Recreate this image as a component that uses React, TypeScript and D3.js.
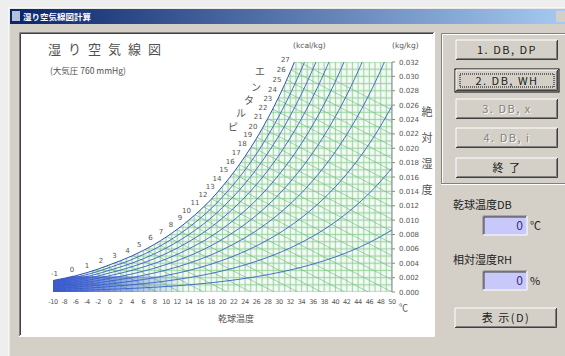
import React from 'react';
import * as d3 from 'd3';

// dry-bulb temperature (°C) and saturation humidity ratio (kg/kg) read for the chart
const satTemps = [-10, -8, -6, -4, -2, 0, 2, 4, 6, 8, 10, 12, 14, 16, 18, 20, 22, 24, 26, 28, 30, 32, 34, 36, 38, 40, 42, 44, 46, 48, 50];
const satHumidity = [0.0016, 0.00191, 0.00226, 0.00269, 0.00319, 0.00378, 0.00437, 0.00503, 0.00579, 0.00665, 0.00763, 0.00873, 0.00997, 0.01135, 0.0129, 0.0147, 0.01667, 0.01888, 0.02135, 0.02412, 0.0272, 0.03065, 0.03449, 0.03877, 0.04355, 0.04887, 0.05481, 0.06143, 0.06882, 0.07707, 0.08629];
const rhLevels = [0.1, 0.2, 0.3, 0.4, 0.5, 0.6, 0.7, 0.8, 0.9];
const enthalpyLevels = [-1, 0, 1, 2, 3, 4, 5, 6, 7, 8, 9, 10, 11, 12, 13, 14, 15, 16, 17, 18, 19, 20, 21, 22, 23, 24, 25, 26, 27];
const dbTicks = [-10, -8, -6, -4, -2, 0, 2, 4, 6, 8, 10, 12, 14, 16, 18, 20, 22, 24, 26, 28, 30, 32, 34, 36, 38, 40, 42, 44, 46, 48, 50];
const wTicks = [0, 0.002, 0.004, 0.006, 0.008, 0.01, 0.012, 0.014, 0.016, 0.018, 0.02, 0.022, 0.024, 0.026, 0.028, 0.03, 0.032];

const FACE = '#d4d0c8';
const JP = '"Noto Sans CJK JP", sans-serif';

const x = d3.scaleLinear().domain([-10, 50]).range([53, 392]);
const y = d3.scaleLinear().domain([0, 0.032]).range([292, 62]);

const satPts: [number, number][] = satTemps.map((t, i) => [t, satHumidity[i]]);

const satAt = (t: number) => {
  const i = Math.min(satTemps.length - 2, Math.max(0, Math.floor((t + 10) / 2)));
  const f = (t - satTemps[i]) / 2;
  return satHumidity[i] + f * (satHumidity[i + 1] - satHumidity[i]);
};
// moist air enthalpy, kcal/kg
const enth = (t: number, w: number) => 0.24 * t + w * (597.3 + 0.441 * t);
const wOnEnth = (h: number, t: number) => (h - 0.24 * t) / (597.3 + 0.441 * t);

const Button = ({ bx, by, w, h, label, focused = false, disabled = false }: any) => (
  <g>
    {focused && <rect x={bx - 1} y={by - 1} width={w + 2} height={h + 2} fill="none" stroke="#000" />}
    <rect x={bx} y={by} width={w} height={h} fill={FACE} />
    <path d={`M${bx},${by + h}V${by}H${bx + w}`} stroke="#fff" fill="none" />
    <path d={`M${bx},${by + h - 0.5}H${bx + w - 0.5}V${by}`} stroke="#404040" fill="none" />
    <path d={`M${bx + 1},${by + h - 1.5}H${bx + w - 1.5}V${by + 1}`} stroke="#808080" fill="none" />
    {focused && (
      <rect x={bx + 4} y={by + 4} width={w - 8} height={h - 8} fill="none" stroke="#000" strokeDasharray="1,1" />
    )}
    {disabled && (
      <text x={bx + w / 2 + 1} y={by + h / 2 + 5} textAnchor="middle" fontSize={11} fontFamily={JP} letterSpacing={1.5} fill="#fff">
        {label}
      </text>
    )}
    <text x={bx + w / 2} y={by + h / 2 + 4} textAnchor="middle" fontSize={11} fontFamily={JP} letterSpacing={1.5} fill={disabled ? '#808080' : '#202020'}>
      {label}
    </text>
  </g>
);

const Field = ({ fx, fy }: any) => (
  <g>
    <rect x={fx} y={fy} width={44} height={19} fill="#c8c8fa" />
    <path d={`M${fx},${fy + 19}V${fy}H${fx + 44}`} stroke="#808080" fill="none" />
    <path d={`M${fx + 1},${fy + 18}V${fy + 1}H${fx + 43}`} stroke="#404040" fill="none" />
    <path d={`M${fx},${fy + 19}H${fx + 44}V${fy}`} stroke="#fff" fill="none" />
    <text x={fx + 40} y={fy + 14} textAnchor="end" fontSize={12} fontFamily={JP} fill="#303080">0</text>
  </g>
);

const App = () => {
  const line = d3.line<[number, number]>().x(d => x(d[0])).y(d => y(d[1]));
  const satLine = d3.line<[number, number]>().x(d => x(d[0])).y(d => y(d[1])).curve(d3.curveMonotoneX);
  const satArea = d3
    .area<[number, number]>()
    .x(d => x(d[0]))
    .y0(y(0))
    .y1(d => y(d[1]))
    .curve(d3.curveMonotoneX);

  const gridT = d3.range(-10, 51, 1);
  const gridW = d3.range(0, 0.0325, 0.001);

  const enthLabels = enthalpyLevels.map(h => {
    let t = -12;
    while (t < 40 && enth(t, satAt(t)) < h) t += 0.05;
    return { h, t, w: satAt(t) };
  });

  return (
    <svg width={565} height={356} style={{ position: 'absolute', left: 0, top: 0, display: 'block' }}>
      <defs>
        <linearGradient id="title" x1="0" x2="1">
          <stop offset="0" stopColor="#0a246a" />
          <stop offset="1" stopColor="#a6caf0" />
        </linearGradient>
        <linearGradient id="band" x1="0" x2="1">
          <stop offset="0" stopColor="#2838d8" stopOpacity={0.85} />
          <stop offset="0.45" stopColor="#3050d8" stopOpacity={0.55} />
          <stop offset="1" stopColor="#4a70d8" stopOpacity={0} />
        </linearGradient>
        <clipPath id="plotRect">
          <rect x={x(-10)} y={y(0.032)} width={x(50) - x(-10)} height={y(0) - y(0.032)} />
        </clipPath>
        <clipPath id="satClip">
          <path d={satArea(satPts) || ''} />
        </clipPath>
        <pattern id="cells" patternUnits="userSpaceOnUse" x={x(-10)} y={y(0.032)} width={x(1) - x(0)} height={y(0) - y(0.001)}>
          <rect x={1.2} y={1.5} width={3.2} height={4.2} fill="#fff" opacity={0.7} />
        </pattern>
      </defs>

      {/* window */}
      <rect width={565} height={356} fill="#eeeeee" />
      <rect x={9} y={8} width={560} height={350} fill={FACE} />
      <path d="M9,358V8H569" stroke="#fff" fill="none" />
      <rect x={10} y={9} width={556} height={15} fill="url(#title)" />
      <rect x={12} y={11} width={8} height={10} fill="#dfe6f5" opacity={0.8} />
      <text x={23} y={20} fontSize={8.5} fontFamily={JP} fontWeight="bold" fill="#fff">湿り空気線図計算</text>
      <rect x={556} y={11} width={12} height={11} fill={FACE} />

      {/* chart panel */}
      <rect x={19} y={32} width={415} height={304} fill="#fff" />
      <path d="M19.5,336V32.5H434" stroke="#808080" fill="none" />
      <path d="M20.5,335V33.5H433" stroke="#404040" fill="none" />
      <path d="M19,336.5H434.5V32" stroke="#fff" fill="none" />

      <text x={48} y={54} fontSize={13} fontFamily={JP} letterSpacing={7} fill="#505050">湿り空気線図</text>
      <text x={50} y={74} fontSize={8.5} fontFamily={JP} fill="#505050">(大気圧 760 mmHg)</text>

      {/* chart body */}
      <g clipPath="url(#plotRect)">
        <g clipPath="url(#satClip)">
          <rect x={x(-10)} y={y(0.032)} width={x(50) - x(-10)} height={y(0) - y(0.032)} fill="#e2f3e6" />
          <rect x={x(-10)} y={y(0.032)} width={x(50) - x(-10)} height={y(0) - y(0.032)} fill="url(#cells)" />
          {gridT.map(t => (
            <line key={'t' + t} x1={x(t)} x2={x(t)} y1={y(0)} y2={y(0.032)} stroke="#7ec87e" strokeWidth={0.6} />
          ))}
          {gridW.map(w => (
            <line key={'w' + w} x1={x(-10)} x2={x(50)} y1={y(w)} y2={y(w)} stroke="#7ec87e" strokeWidth={0.6} />
          ))}
          {enthalpyLevels.map(h => (
            <path
              key={'h' + h}
              d={line([[-12, wOnEnth(h, -12)], [h / 0.24, 0]]) || ''}
              stroke="#68b880"
              strokeWidth={0.6}
              fill="none"
            />
          ))}
          <rect x={x(-10)} y={y(0.0022)} width={x(14) - x(-10)} height={y(0) - y(0.0022)} fill="url(#band)" />
          {rhLevels.map(r => (
            <path
              key={'r' + r}
              d={satLine(satPts.map(([t, w]) => [t, w * r] as [number, number])) || ''}
              stroke="#3860c8"
              strokeWidth={0.9}
              fill="none"
            />
          ))}
        </g>
        <path d={satLine(satPts) || ''} stroke="#3050c0" strokeWidth={1} fill="none" />
      </g>
      <line x1={x(50)} x2={x(50)} y1={y(0.032)} y2={y(0)} stroke="#808890" strokeWidth={1} />

      {enthLabels.map(d => (
        <text key={'hl' + d.h} x={x(d.t) - 3} y={y(d.w) - 3} textAnchor="end" fontSize={7} fontFamily="DejaVu Sans" fill="#555">
          {d.h}
        </text>
      ))}
      {[['エ', 260, 75], ['ン', 256, 91], ['タ', 249, 104], ['ル', 241, 117], ['ピ', 233, 131]].map(([c, cx, cy]) => (
        <text key={c as string} x={cx as number} y={cy as number} textAnchor="middle" fontSize={10} fontFamily={JP} fill="#555">
          {c}
        </text>
      ))}

      <text x={293} y={48} fontSize={7.5} fontFamily="DejaVu Sans" fill="#555">(kcal/kg)</text>
      <text x={392} y={48} fontSize={7.5} fontFamily="DejaVu Sans" fill="#555">(kg/kg)</text>

      {wTicks.map(w => (
        <g key={'wt' + w}>
          <line x1={x(50)} x2={x(50) + 3} y1={y(w)} y2={y(w)} stroke="#888" />
          <text x={399} y={y(w) + 2.5} fontSize={7} fontFamily="DejaVu Sans" fill="#555">
            {d3.format('.3f')(w)}
          </text>
        </g>
      ))}
      {['絶', '対', '湿', '度'].map((c, i) => (
        <text key={c} x={427} y={116 + i * 26} textAnchor="middle" fontSize={11} fontFamily={JP} fill="#555">
          {c}
        </text>
      ))}

      {dbTicks.map(t => (
        <text key={'dt' + t} x={x(t)} y={304} textAnchor="middle" fontSize={6.5} fontFamily="DejaVu Sans" letterSpacing={-0.4} fill="#555">
          {t}
        </text>
      ))}
      <text x={399} y={311} fontSize={9} fontFamily={JP} fill="#555">℃</text>
      <text x={236} y={322} textAnchor="middle" fontSize={9} fontFamily={JP} fill="#555">乾球温度</text>

      {/* right controls */}
      <path d="M441.5,184V33.5H566" stroke="#808080" fill="none" />
      <path d="M442.5,184V34.5H566" stroke="#fff" fill="none" />
      <path d="M441,183.5H566" stroke="#808080" fill="none" />
      <path d="M441,184.5H566" stroke="#fff" fill="none" />

      <Button bx={456} by={40} w={102} h={20} label="1. DB, DP" />
      <Button bx={456} by={70} w={102} h={21} label="2. DB, WH" focused />
      <Button bx={456} by={99} w={102} h={20} label="3. DB, x" disabled />
      <Button bx={456} by={128} w={102} h={20} label="4. DB, i" disabled />
      <Button bx={456} by={158} w={102} h={20} label="終  了" />

      <text x={453} y={209} fontSize={11} fontFamily={JP} fill="#202020">乾球温度DB</text>
      <Field fx={483} fy={216} />
      <text x={530} y={230} fontSize={11} fontFamily={JP} fill="#202020">℃</text>
      <text x={453} y={264} fontSize={11} fontFamily={JP} fill="#202020">相対湿度RH</text>
      <Field fx={483} fy={271} />
      <text x={530} y={285} fontSize={11} fontFamily={JP} fill="#202020">%</text>

      <Button bx={455} by={308} w={102} h={20} label="表 示(D)" />
    </svg>
  );
};

export default App;
